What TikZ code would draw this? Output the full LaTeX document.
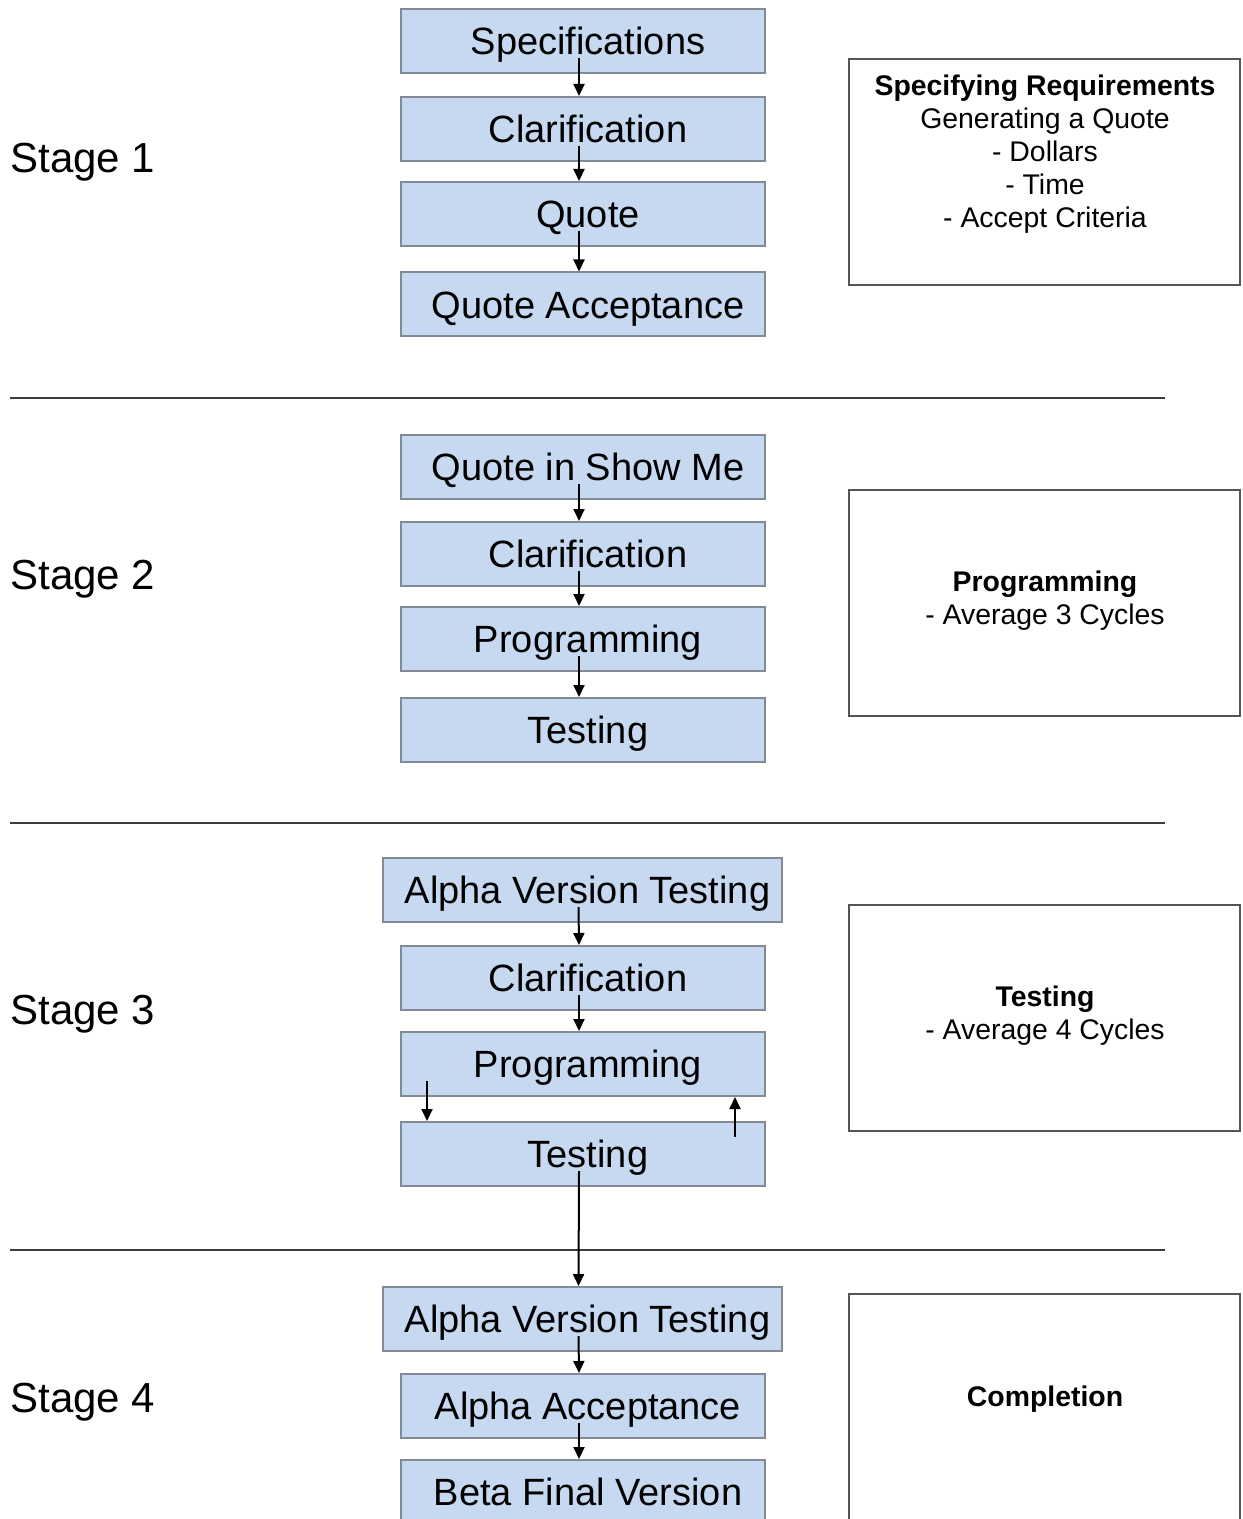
\documentclass[tikz,border=0pt]{standalone}
\usepackage{fontspec}
\setmainfont{Liberation Sans}
\usetikzlibrary{arrows.meta}
\definecolor{boxblue}{RGB}{198,217,241}
\definecolor{boxline}{RGB}{130,138,150}
\definecolor{noteline}{RGB}{85,85,85}
\definecolor{sepgray}{RGB}{60,60,60}
\begin{document}
\begin{tikzpicture}[x=0.5pt, y=-0.5pt, >={Triangle[width=5.5pt,length=6pt]},
    flowbox/.style={draw=boxline, line width=1pt, fill=boxblue, minimum width=182pt,
        minimum height=32pt, inner sep=0pt, font=\fontsize{19}{22}\selectfont,
        text height=13.6pt, text depth=0pt, execute at begin node={\hspace*{5pt}}},
    widebox/.style={flowbox, minimum width=199.5pt},
    notebox/.style={draw=noteline, line width=1pt, minimum width=195.5pt, minimum height=113pt},
    note/.style={anchor=north, align=center, inner sep=0pt, font=\fontsize{14.2}{16.5}\selectfont},
    flow/.style={->, line width=1pt}]
    \useasboundingbox (0,0) rectangle (1242,1519);
    \clip (0,0) rectangle (1242,1519);
    % stage labels and separators
    \foreach \i/\y in {1/173,2/589,3/1024,4/1412}{
        \node[anchor=base west, inner sep=0pt, font=\fontsize{21}{25}\selectfont] (stage\i) at (10,\y) {Stage \i};}
    \foreach \y in {398,823,1250}{\draw[sepgray, line width=1pt] (10,\y)--(1165,\y);}
    % stage 1
    \node[flowbox] (spec) at (583,41) {Specifications};
    \node[flowbox] (clar1) at (583,129) {Clarification};
    \node[flowbox] (quote) at (583,214) {Quote};
    \node[flowbox] (qacc) at (583,304.5) {Quote Acceptance};
    \node[notebox] (req) at (1044.5,172) {};
    \node[note] (reqtext) at (1045,75) {\textbf{Specifying Requirements}\\Generating a Quote\\- Dollars\\- Time\\- Accept Criteria};
    % stage 2
    \node[flowbox] (qshow) at (583,467) {Quote in Show Me};
    \node[flowbox] (clar2) at (583,554) {Clarification};
    \node[flowbox] (prog2) at (583,639) {Programming};
    \node[flowbox] (test2) at (583,730) {Testing};
    \node[notebox] (progbox) at (1044.5,602.5) {};
    \node[note] (progtext) at (1045,571) {\textbf{Programming}\\- Average 3 Cycles};
    % stage 3
    \node[widebox] (alpha3) at (582.5,890) {Alpha Version Testing};
    \node[flowbox] (clar3) at (583,978) {Clarification};
    \node[flowbox] (prog3) at (583,1064) {Programming};
    \node[flowbox] (test3) at (583,1154) {Testing};
    \node[notebox] (testbox) at (1044.5,1017.5) {};
    \node[note] (testtext) at (1045,986) {\textbf{Testing}\\- Average 4 Cycles};
    % stage 4
    \node[widebox] (alpha4) at (582.5,1319) {Alpha Version Testing};
    \node[flowbox] (aacc) at (583,1406) {Alpha Acceptance};
    \node[flowbox] (beta) at (583,1492) {Beta Final Version};
    \node[notebox] (compbox) at (1044.5,1407) {};
    \node[note] (comptext) at (1045,1386) {\textbf{Completion}};
    % arrows
    \foreach \a/\b in {spec/clar1,clar1/quote,quote/qacc,qshow/clar2,clar2/prog2,prog2/test2,
        alpha3/clar3,clar3/prog3,test3/alpha4,alpha4/aacc,aacc/beta}{
        \draw[flow] ([xshift=-2pt,yshift=8pt]\a.south)--([xshift=-2pt]\b.north);}
    \draw[flow] ([xshift=13.5pt,yshift=8pt]prog3.south west)--([xshift=13.5pt]test3.north west);
    \draw[flow] ([xshift=-15.5pt,yshift=-8pt]test3.north east)--([xshift=-15.5pt]prog3.south east);
\end{tikzpicture}
\end{document}
